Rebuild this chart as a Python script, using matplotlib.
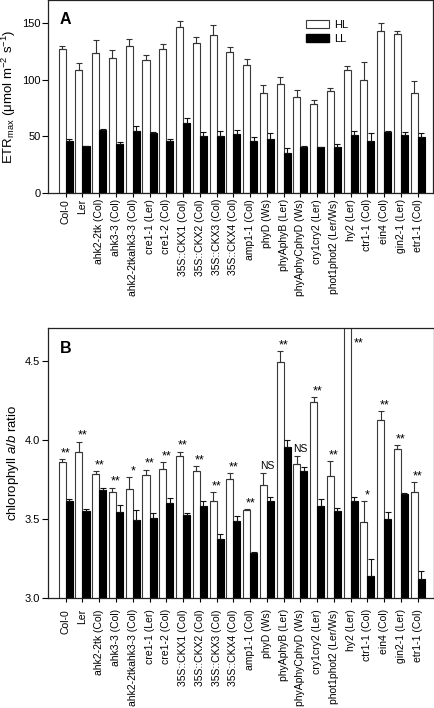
import numpy as np
import matplotlib
matplotlib.use("Agg")
import matplotlib.pyplot as plt
from matplotlib.patches import Patch

plt.rcParams['font.family'] = ['Liberation Sans', 'DejaVu Sans']
plt.rcParams['mathtext.fontset'] = 'custom'
plt.rcParams['mathtext.rm'] = 'Liberation Sans'
plt.rcParams['mathtext.it'] = 'Liberation Sans:italic'
plt.rcParams['mathtext.bf'] = 'Liberation Sans:bold'

labels = ['Col-0', 'Ler', 'ahk2-2tk (Col)', 'ahk3-3 (Col)', 'ahk2-2tkahk3-3 (Col)',
          'cre1-1 (Ler)', 'cre1-2 (Col)', '35S::CKX1 (Col)', '35S::CKX2 (Col)',
          '35S::CKX3 (Col)', '35S::CKX4 (Col)', 'amp1-1 (Col)', 'phyD (Ws)',
          'phyAphyB (Ler)', 'phyAphyCphyD (Ws)', 'cry1cry2 (Ler)', 'phot1phot2 (Ler/Ws)',
          'hy2 (Ler)', 'ctr1-1 (Col)', 'ein4 (Col)', 'gin2-1 (Ler)', 'etr1-1 (Col)']

etr_hl = [127.4, 108.9, 123.5, 118.8, 130.0, 117.0, 127.4, 146.2, 132.7, 139.7, 124.7,
          112.7, 88.6, 96.2, 85.0, 78.9, 90.3, 108.3, 100.0, 143.0, 140.6, 88.6]
etr_hl_err = [2.3, 6.1, 11.2, 7.1, 5.6, 5.1, 4.1, 5.9, 4.7, 8.9, 3.8,
              5.3, 6.7, 6.2, 6.2, 3.2, 2.7, 4.1, 15.9, 7.3, 2.7, 10.2]
etr_ll = [45.6, 40.9, 55.9, 42.7, 54.4, 52.4, 45.9, 62.1, 50.6, 50.3, 52.1,
          45.6, 47.4, 35.0, 40.0, 40.0, 40.3, 51.2, 45.6, 53.3, 51.2, 49.7]
etr_ll_err = [1.5, 0.5, 0.3, 2.0, 4.2, 1.4, 1.2, 3.8, 2.7, 4.7, 3.5,
              3.3, 5.0, 4.2, 0.9, 0.6, 2.4, 3.2, 7.1, 1.7, 2.4, 2.7]

chl_hl = [3.863, 3.926, 3.785, 3.670, 3.689, 3.781, 3.817, 3.899, 3.802, 3.615, 3.754,
          3.558, 3.716, 4.495, 3.846, 4.240, 3.773, 4.95, 3.484, 4.126, 3.943, 3.670]
chl_hl_err = [0.015, 0.063, 0.017, 0.029, 0.077, 0.031, 0.044, 0.027, 0.032, 0.055, 0.036,
              0.004, 0.078, 0.069, 0.055, 0.030, 0.092, 0.10, 0.129, 0.057, 0.023, 0.063]
chl_ll = [3.617, 3.549, 3.684, 3.545, 3.495, 3.509, 3.602, 3.524, 3.581, 3.372, 3.488,
          3.284, 3.617, 3.954, 3.802, 3.583, 3.551, 3.613, 3.140, 3.499, 3.661, 3.118]
chl_ll_err = [0.010, 0.017, 0.013, 0.042, 0.063, 0.028, 0.030, 0.013, 0.032, 0.032, 0.030,
              0.006, 0.021, 0.044, 0.025, 0.046, 0.021, 0.029, 0.110, 0.048, 0.006, 0.055]
signif = ['**', '**', '**', '**', '*', '**', '**', '**', '**', '**', '**',
          '**', 'NS', '**', 'NS', '**', '**', '**', '*', '**', '**', '**']

x = np.arange(len(labels))
w = 0.42
edge = '#3a3a3a'

fig = plt.figure(figsize=(4.35, 7.08), dpi=100)
axA = fig.add_axes([0.111, 0.7278, 0.8844, 0.2715])
axB = fig.add_axes([0.111, 0.1554, 0.8867, 0.3813])


def draw(ax, hl, hle, ll, lle):
    ax.bar(x - w / 2, hl, w, color='white', edgecolor=edge, linewidth=0.8, zorder=2)
    ax.bar(x + w / 2, ll, w, color='black', edgecolor='black', linewidth=0.8, zorder=2)
    ax.errorbar(x - w / 2, hl, yerr=[np.zeros(len(hl)), hle], fmt='none',
                ecolor='#333333', elinewidth=0.8, capsize=2.2, capthick=0.8, zorder=3)
    ax.errorbar(x + w / 2, ll, yerr=[np.zeros(len(ll)), lle], fmt='none',
                ecolor='#111111', elinewidth=0.8, capsize=2.2, capthick=0.8, zorder=3)
    ax.set_xticks(x)
    ax.set_xticklabels(labels, rotation=90, fontsize=7.5)
    for s in ax.spines.values():
        s.set_linewidth(0.9)
        s.set_color('#222222')
    ax.tick_params(axis='y', direction='out', length=4.5, width=0.8, pad=1.2, labelsize=8)
    ax.tick_params(axis='x', direction='out', length=3, width=0.8)


draw(axA, etr_hl, etr_hl_err, etr_ll, etr_ll_err)
axA.set_xlim(-1.04, 21.91)
axA.set_ylim(0, 170)
axA.set_yticks([0, 50, 100, 150])
axA.tick_params(axis='x', pad=1.5)
axA.set_ylabel(r'ETR$_{\rm max}$ ($\rm\mu$mol m$^{-2}$ s$^{-1}$)', fontsize=9.5, labelpad=3)
axA.text(0.03, 0.90, 'A', transform=axA.transAxes, fontsize=11.5, fontweight='bold',
         ha='left', va='center')
handles = [Patch(facecolor='white', edgecolor=edge, linewidth=0.8, label='HL'),
           Patch(facecolor='black', edgecolor='black', label='LL')]
axA.legend(handles=handles, loc='upper left', bbox_to_anchor=(0.669, 0.897), frameon=False,
           fontsize=8, handlelength=2.1, handleheight=0.72, handletextpad=0.5,
           labelspacing=0.35, borderpad=0, borderaxespad=0)

draw(axB, chl_hl, chl_hl_err, chl_ll, chl_ll_err)
axB.set_xlim(-1.04, 21.97)
ytopB = 4.71
axB.set_ylim(3.0, ytopB)
axB.set_yticks([3.0, 3.5, 4.0, 4.5])
axB.set_yticklabels(['3.0', '3.5', '4.0', '4.5'])
axB.tick_params(axis='x', pad=5)
axB.set_ylabel(r'chlorophyll $\it{a/b}$ ratio', fontsize=9.5, labelpad=3)
axB.text(0.03, 0.925, 'B', transform=axB.transAxes, fontsize=11.5, fontweight='bold',
         ha='left', va='center')

for i, s in enumerate(signif):
    top = chl_hl[i] + chl_hl_err[i]
    fs = 7.5 if s == 'NS' else 9
    if top > ytopB:
        axB.text(x[i] + 0.45, ytopB - 0.135, s, ha='center', va='bottom', fontsize=fs)
    else:
        off = 0.012 if s == 'NS' else 0.0
        axB.text(x[i], top + off, s, ha='center', va='bottom', fontsize=fs)

fig.savefig('out.png', dpi=100)
